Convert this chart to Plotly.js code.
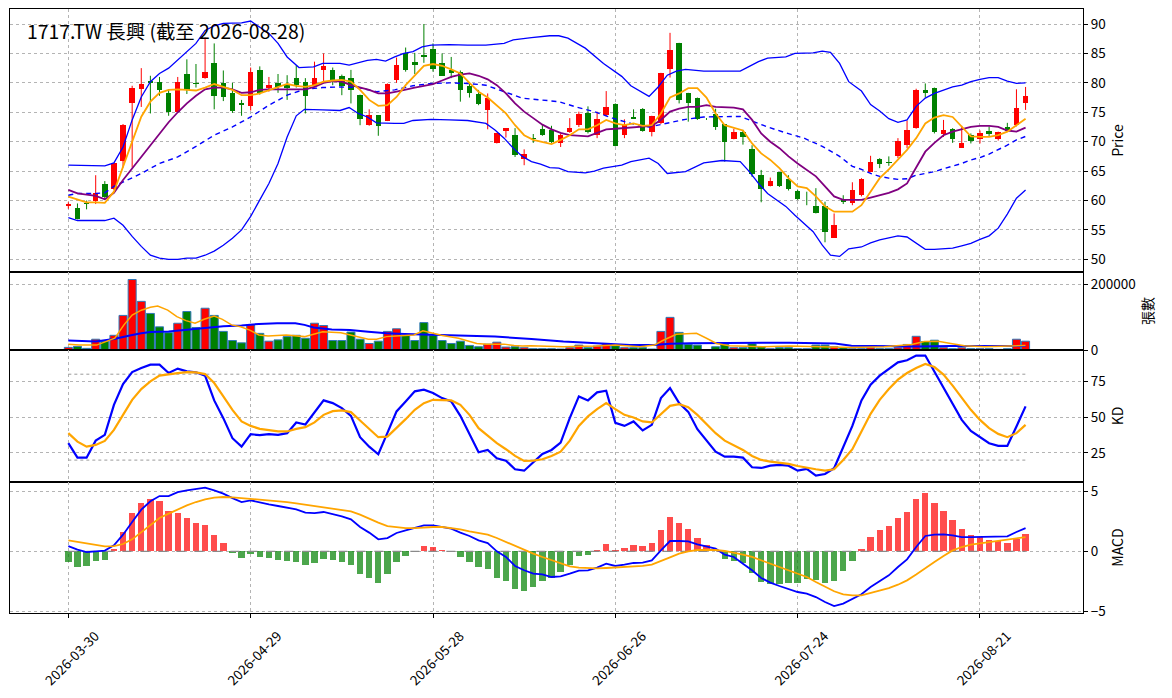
<!DOCTYPE html>
<html>
<head>
<meta charset="utf-8">
<script src="https://cdn.plot.ly/plotly-3.0.1.min.js"></script>
<style>
  html, body { margin: 0; padding: 0; background: #fff; }
  #chart { width: 1172px; height: 698px; }
</style>
</head>
<body>
<div id="chart"></div>
<script>
// 1717.TW daily candles + MA / BB, volume, KD and MACD.
const TITLE = "1717.TW 長興 (截至 2026-08-28)";

// x axis: trading-day index, labelled every 20 bars
const tickIdx = [0, 20, 40, 60, 80, 100];
const tickDates = ["2026-03-30", "2026-04-29", "2026-05-28", "2026-06-26", "2026-07-24", "2026-08-21"];

const openP = [59.0,58.7,59.6,60.0,62.8,62.0,66.8,76.6,79.0,80.3,80.1,78.3,75.1,81.5,79.9,80.8,83.4,80.0,78.3,76.5,
  76.1,82.2,79.2,80.0,79.6,80.8,80.1,79.5,82.2,82.1,81.2,80.9,77.9,72.9,74.5,73.6,80.4,85.0,83.5,84.8,
  85.7,83.4,82.2,81.8,79.5,78.1,75.3,69.8,71.9,71.1,67.0,70.6,72.2,72.0,69.7,71.6,72.8,74.9,71.1,74.6,
  76.4,71.1,74.2,75.5,71.6,73.1,82.4,86.8,78.3,77.4,73.9,74.7,73.0,70.5,71.6,68.7,64.3,62.5,64.8,63.6,
  61.6,61.5,59.1,59.1,53.7,60.1,59.6,60.9,64.9,67.0,66.5,67.6,69.5,72.4,78.8,79.1,71.3,72.2,69.0,71.1,
  70.4,71.9,70.5,72.5,72.8,76.5];
const highP = [59.7,59.5,60.0,64.3,63.3,66.3,73.0,79.5,82.5,81.2,81.0,78.8,81.0,84.0,83.2,87.7,86.7,82.1,80.0,77.1,
  82.6,82.8,81.0,81.5,81.3,83.0,80.8,83.6,85.0,82.6,81.4,82.2,78.0,75.5,74.5,79.9,84.3,86.0,85.1,90.0,
  86.7,85.0,84.4,82.1,79.8,78.8,78.2,71.5,72.3,72.3,68.7,71.3,72.9,72.7,71.4,74.0,75.1,76.0,75.1,78.6,
  76.5,73.8,75.5,75.7,74.4,81.7,88.5,86.8,78.3,77.5,74.0,75.6,73.0,72.2,72.0,69.4,65.2,63.9,64.8,64.3,
  61.8,61.5,62.1,59.8,57.8,60.9,63.1,63.8,67.6,67.2,67.5,70.6,73.6,79.0,79.9,79.2,73.7,72.3,72.7,71.4,
  71.9,72.6,71.7,73.2,78.9,79.3];
const lowP = [58.6,56.8,58.5,59.4,60.2,61.8,65.6,65.6,75.9,74.8,77.8,74.4,75.0,78.1,79.2,80.7,75.5,76.9,74.9,74.4,
  75.3,78.0,78.5,78.3,77.1,79.2,74.8,79.3,80.2,79.6,77.9,76.5,72.8,72.7,71.0,73.5,80.0,81.9,81.5,83.4,
  81.9,81.2,80.8,76.8,77.5,76.2,72.1,69.7,70.7,67.4,66.0,69.8,71.0,69.8,69.1,71.5,72.5,71.4,70.6,74.3,
  69.2,70.6,73.9,71.7,70.9,73.0,80.9,76.5,73.4,73.7,73.7,72.0,66.6,70.4,69.5,64.0,59.7,62.4,62.3,61.7,
  60.1,59.2,57.8,52.9,53.7,59.4,59.2,60.7,64.8,65.5,65.9,67.2,68.9,72.2,77.5,71.4,70.8,69.8,69.0,69.7,
  69.7,70.8,70.2,71.7,72.6,75.4];
const closeP = [59.4,56.9,59.4,61.2,60.6,66.3,72.9,79.1,79.8,80.0,78.8,75.1,80.1,78.8,79.8,81.8,77.8,77.6,75.2,76.3,
  81.8,78.3,79.6,79.3,79.2,79.6,77.8,80.9,82.9,80.4,79.5,78.7,73.8,74.5,72.7,79.8,83.1,82.2,83.0,84.4,
  82.4,81.2,81.6,78.7,78.2,76.4,77.4,71.4,72.3,67.8,67.9,70.4,71.2,69.9,71.1,72.4,74.7,71.6,73.8,75.9,
  69.3,72.9,73.9,71.9,74.3,81.6,85.5,77.1,76.6,73.8,73.8,72.5,70.0,71.6,70.8,64.5,62.0,63.3,62.5,61.9,
  60.2,61.4,57.8,54.7,55.8,59.7,61.8,63.6,66.5,66.2,66.3,70.1,72.0,78.8,78.2,71.6,72.0,70.5,69.7,70.2,
  71.5,71.3,71.7,71.9,75.8,77.8];

// moving averages on price (one value per bar)
const ma5 = [60.65,60.2,59.7,59.7,59.6,61.5,65.75,70.3,74.25,76.8,78.3,78.8,78.9,78.8,78.7,79.2,79.8,79.3,78.8,77.9,
  77.9,78.2,78.7,79.2,79.8,79.5,79.3,79.6,80.2,80.4,80.5,80.2,78.8,77.1,76.1,76.2,77.6,79.6,81.3,82.9,
  83.2,82.9,82.3,81.6,80.0,78.5,77.5,76.2,74.8,72.8,71.1,70.3,70.0,69.6,70.3,71.1,72.1,72.1,72.8,73.7,
  73.1,72.8,73.1,72.7,72.8,74.8,77.5,78.2,79.1,79.1,77.5,74.8,72.8,72.3,71.9,69.7,68.0,66.9,65.5,63.8,
  62.4,62.1,60.7,59.0,58.1,58.1,58.1,59.2,61.5,63.8,65.3,66.9,68.6,70.6,73.1,74.1,74.5,74.2,72.5,70.9,
  70.8,70.8,71.1,71.7,72.8,73.9];
const ma10 = [61.8,61.2,61.0,60.8,60.2,61.3,63.5,65.5,67.5,69.5,71.5,73.3,75.0,76.5,77.8,78.9,79.2,79.2,78.9,78.3,
  78.4,78.8,78.9,78.9,78.9,78.8,78.9,79.3,80.0,80.3,80.2,79.6,79.2,78.8,78.2,78.2,78.5,78.9,79.2,79.5,
  79.8,80.4,81.0,81.4,81.6,81.2,80.6,79.6,78.2,76.5,75.1,74.0,72.9,72.1,71.5,71.1,71.0,70.9,71.5,72.1,
  72.2,72.3,72.4,72.6,72.7,73.7,75.1,75.6,75.9,75.9,76.2,75.9,75.8,75.8,75.5,73.7,71.4,70.0,68.9,67.5,
  66.3,65.2,64.1,62.4,60.7,60.1,60.1,60.1,60.5,60.9,61.3,61.9,62.9,65.6,68.3,69.8,71.1,71.7,72.1,72.5,
  72.7,72.7,72.5,71.9,71.7,72.4];

// MA20 (dashed) and Bollinger bands, read at sampled bar positions
const ma20X = [0,1,3,4,5,8,10,12,14,16,18,20,22,24,25.9,27.9,29.8,31.8,33.8,35.8,37.8,39.8,41.8,43.8,45.8,47.8,49.8,51.8,53.8,55.7,
  57.7,59.7,61.7,63.7,65.7,67.7,69.7,71.7,73.7,74.7,76.7,78.7,80.7,82.7,84.6,86,87,88,89,90,91,92,93,94,95,96,97,98,99,100,101,102,103,104,105];
const ma20Y = [60.9,61.2,61.2,61.3,62.4,64.6,66.3,67.4,69.2,71.1,72.5,74.2,76.2,77.9,78.9,79.2,79.3,79.2,78.5,78.8,79.5,79.9,80.0,79.9,79.6,78.5,77.4,77.1,76.8,75.9,
  75.1,74.0,73.1,72.5,73.1,73.8,74.2,74.3,74.3,73.7,72.5,71.5,70.6,69.2,67.5,65.8,65.3,64.6,64.1,63.8,63.6,63.7,64.3,64.6,64.9,65.4,65.8,66.3,66.9,67.3,67.9,68.6,69.4,70.3,70.9];
const bbUpX = [0,2,4,5,6,7,8,9,10,11,12,13,14,15,16,17,18,19,20,21,22,23,24,25.3,26.9,27.9,29.8,30.8,32.8,33.8,34.8,35.8,36.8,37.8,38.8,39.8,41.8,43.8,45.8,47.8,48.8,50.8,52.8,53.8,54.8,
  56.7,58.7,60.7,61.7,63.7,64.7,65.7,66.7,67.7,69.7,71.7,73.7,74.7,75.7,76.7,78.7,79.7,81.7,82.7,83.6,84.6,85.6,87,88,89,90,91,92,93,94,95,96,97,98,99,100,101,102,103,104,105];
const bbUpY = [66.0,65.9,65.9,66.4,69.1,73.7,77.6,80.2,81.6,82.5,83.9,85.3,86.7,88.9,89.7,90.1,90.2,90.2,90.5,89.5,88.4,86.7,84.4,82.6,82.7,83.3,83.3,83.0,83.8,84.0,83.7,84.4,85.0,85.3,86.1,86.4,86.5,86.4,86.4,86.7,87.3,87.7,88.0,88.0,87.6,
  85.9,83.3,81.1,79.5,77.7,79.3,81.3,82.0,82.3,82.0,82.0,82.0,82.8,83.6,84.2,84.4,85.0,85.1,85.4,85.2,83.3,80.2,78.6,76.3,75.2,73.9,73.3,73.7,76.0,77.4,78.2,78.8,79.3,79.6,80.2,80.6,80.9,80.9,80.3,79.9,80.0];
const bbLowX = [0,1,2,4,5,6,7,8,9,10,11,12,13,14,15,16,17,18,19,20,21,22,23,24,25,25.9,27.9,29.8,30.8,31.8,32.8,33.8,35.8,36.8,37.8,39.8,41.8,43.8,45.8,46.8,47.8,48.8,49.8,50.8,51.8,52.8,53.8,54.8,
  56.7,57.7,58.7,60.7,61.7,63.7,64.7,65.7,67.7,69.7,71.7,73.7,74.7,75.7,76.7,78.7,79.7,80.7,81.7,82.7,83.6,84.6,85.6,87,88,89,90,91,92,93,94,95,96,97,98,99,100,101,102,103,104,105];
const bbLowY = [57.1,56.6,56.6,56.6,57.0,55.8,53.9,52.2,50.7,50.2,50.0,50.0,50.2,50.2,50.7,51.4,52.4,53.6,55.0,57.3,60.1,62.9,66.3,70.8,74.4,75.5,75.4,75.3,75.8,74.8,74.2,73.2,73.1,73.1,73.6,73.8,73.7,73.6,73.1,72.0,70.6,68.9,67.5,66.6,66.2,65.6,65.5,64.9,
  64.7,65.0,65.5,66.0,66.6,67.2,66.3,64.6,64.9,66.4,66.8,66.6,64.9,62.9,61.2,59.0,57.5,56.1,54.7,52.4,50.7,50.5,51.8,52.1,52.8,53.3,53.7,54.0,53.8,52.7,51.7,51.7,51.8,51.9,52.3,52.7,53.4,54.0,55.3,57.7,60.4,61.8];

// volume (張數) per bar
const volume = [8000,11000,5000,33000,27000,45000,106000,216000,149000,112000,71000,53000,82000,118000,69000,128000,106000,57000,29000,22000,
  77000,51000,27000,31000,41000,45000,36000,82000,75000,29000,29000,55000,33000,20000,27000,57000,65000,45000,29000,84000,
  45000,29000,20000,27000,14000,10000,18000,24000,9000,10000,7000,4000,4000,4000,3000,7000,15000,7000,12000,20000,
  13000,7000,7000,7000,3000,57000,100000,54000,17000,15000,1000,10000,17000,7000,7000,19000,10000,4000,7000,7000,
  4000,4000,15000,15000,10000,7000,4000,4000,7000,4000,4000,7000,17000,42000,26000,30000,7000,4000,7000,4000,
  4000,4000,2000,4000,33000,27000];
const volMa5X = [0,1.2,3.1,4.1,5.1,6.1,7,8,9,9.8,10.9,11.9,12.9,13.9,14.9,16,16.9,17.9,18.9,19.9,20.9,21.9,23.9,25.9,27.9,29.9,31.9,32.9,33.8,34.9,35.9,37.9,38.9,39.9,40.9,42.8,43.9,44.8,45.9,47.8,48.9,49.8,
  50.7,54.3,57.9,60,62.7,64.3,65.2,66.7,67.8,68.9,70,71.1,72.5,76.2,79.1,82.3,85.9,89.5,92.5,93.9,95.4,96.8,98.3,100.5,104.1,105];
const volMa5Y = [18000,15000,15000,25000,36000,77000,107000,122000,131000,135000,122000,102000,90000,82000,94000,104000,94000,77000,71000,61000,46000,43000,46000,41000,56000,53000,41000,33000,33000,41000,43000,46000,59000,53000,45000,36000,26000,20000,18000,18000,14000,12000,
  13000,10000,12000,15000,10000,15000,29000,48000,50000,51000,36000,20000,13000,10000,12000,10000,8000,10000,17000,26000,27000,20000,13000,10000,12000,14000];
const volMa20X = [0,3,5,6,7,8,9,11,13,15,17,19,20.9,22.9,24.9,25.9,26.9,28.9,30.9,32.9,34.9,36.9,38.9,40.9,42.8,44.8,46.8,48.9,50.8,
  54.3,57.9,60,61.6,64.2,66,68.2,71.1,76.2,79.1,84.1,85.9,89.5,93.2,96.8,100.5,105];
const volMa20Y = [29000,26000,34000,41000,46000,51000,55000,57000,63000,69000,73000,75000,80000,82000,82000,77000,69000,63000,61000,56000,51000,49000,48000,47000,46000,43000,41000,38000,34000,
  26000,20000,17000,15000,15000,19000,21000,22000,22000,22000,20000,13000,11000,11000,12000,12000,12000];

// KD
const kLine = [31.8,21.7,21.7,33.6,37.6,58.6,73.1,81.5,84.3,86.7,86.7,80.8,83.9,82.0,81.3,79.0,61.7,49.3,35.3,29.4,
  38.1,37.4,38.1,37.6,38.8,46.3,44.9,53.3,61.7,59.8,56.3,50.9,36.0,29.4,24.1,39.0,54.0,61.0,68.0,69.2,
  66.8,63.3,61.0,50.9,37.6,25.5,27.1,21.3,19.6,13.6,12.6,18.2,24.3,27.1,32.2,49.3,64.5,61.7,67.3,68.5,
  46.0,43.9,47.0,40.7,44.6,63.3,70.3,59.8,53.7,41.6,33.6,25.9,22.4,22.4,21.7,15.0,14.5,16.1,16.6,16.1,
  12.6,13.8,9.1,10.3,14.3,29.0,43.9,61.7,72.7,79.0,83.6,88.3,89.7,93.0,93.0,82.0,71.0,59.8,48.1,40.4,
  36.0,31.8,29.9,29.9,43.5,57.5];
const dLine = [38.8,32.9,29.4,30.6,33.4,41.1,51.6,62.1,69.6,75.0,79.0,80.1,80.8,81.5,81.3,80.1,73.8,64.5,55.1,47.0,
  43.9,41.8,40.7,40.0,40.0,41.8,43.0,46.3,51.6,54.2,54.7,53.5,47.7,41.8,36.0,36.4,42.3,48.6,55.1,59.8,
  62.1,62.1,61.7,58.6,51.6,42.3,36.9,31.8,27.6,22.9,19.4,19.6,20.6,22.9,25.9,33.6,43.9,50.5,55.6,59.8,
  55.6,51.6,49.8,47.0,46.3,52.3,57.9,59.1,57.0,51.6,45.3,38.8,33.6,30.1,27.1,22.9,20.1,18.9,18.2,17.3,
  15.9,15.0,13.6,12.6,13.6,20.1,27.6,40.0,52.3,62.1,69.6,76.2,80.8,84.3,87.1,85.0,79.7,72.0,63.3,55.1,
  48.1,42.3,38.3,36.0,38.8,44.6];
const kdLevels = [20, 80];

// MACD
const macdHist = [-0.89,-1.31,-1.22,-0.81,-0.69,0.19,1.61,3.19,4.03,4.36,4.19,3.36,3.22,2.78,2.36,2.19,1.36,0.69,-0.11,-0.53,
  -0.22,-0.47,-0.53,-0.69,-0.81,-0.89,-1.11,-0.94,-0.61,-0.69,-0.89,-1.11,-1.86,-2.19,-2.61,-1.86,-0.89,-0.36,0.02,0.44,
  0.33,0.11,-0.02,-0.44,-0.89,-1.28,-1.44,-2.22,-2.44,-3.11,-3.33,-2.97,-2.44,-2.19,-1.72,-1.11,-0.36,-0.28,0.11,0.61,
  0.11,0.28,0.53,0.44,0.69,1.81,2.86,2.36,1.86,1.11,0.5,0.1,-0.61,-0.78,-0.94,-1.78,-2.56,-2.69,-2.69,-2.61,
  -2.61,-2.28,-2.36,-2.61,-2.47,-1.61,-0.78,0.19,1.19,1.78,2.14,2.78,3.28,4.36,4.86,4.03,3.36,2.61,1.86,1.39,
  1.19,0.97,0.86,0.69,1.03,1.44];
const dif = [0.44,0.14,-0.06,0.03,0.06,0.5,1.39,2.44,3.47,4.17,4.61,4.61,4.94,5.08,5.17,5.31,5.08,4.81,4.44,4.11,
  4.25,4.06,3.92,3.78,3.61,3.5,3.22,3.19,3.28,3.11,2.92,2.67,2.03,1.56,1.0,1.11,1.53,1.75,1.94,2.17,
  2.17,2.03,1.89,1.56,1.28,0.92,0.69,0.0,-0.47,-1.22,-1.58,-1.86,-1.92,-2.14,-2.08,-1.86,-1.61,-1.58,-1.36,-1.03,
  -1.22,-1.11,-0.97,-0.94,-0.75,0.08,0.86,0.86,0.83,0.58,0.42,0.22,-0.28,-0.47,-1.03,-1.58,-2.22,-2.61,-2.89,-3.11,
  -3.39,-3.53,-3.81,-4.22,-4.56,-4.36,-4.0,-3.58,-2.97,-2.47,-2.0,-1.31,-0.67,0.36,1.28,1.39,1.42,1.33,1.19,1.19,
  1.19,1.19,1.22,1.25,1.61,1.94];
const dea = [0.92,0.78,0.64,0.5,0.42,0.44,0.61,1.0,1.61,2.22,2.78,3.14,3.5,3.83,4.11,4.33,4.47,4.53,4.5,4.44,
  4.39,4.33,4.25,4.17,4.11,4.0,3.89,3.78,3.67,3.61,3.5,3.33,3.06,2.72,2.39,2.11,2.0,1.94,1.94,2.0,
  2.03,2.03,1.94,1.83,1.67,1.56,1.39,1.11,0.78,0.42,0.08,-0.19,-0.47,-0.75,-1.03,-1.25,-1.36,-1.42,-1.42,-1.39,
  -1.36,-1.33,-1.28,-1.22,-1.11,-0.83,-0.5,-0.19,0.0,0.11,0.14,0.11,0.03,-0.11,-0.28,-0.47,-0.75,-1.03,-1.31,-1.58,
  -1.86,-2.14,-2.56,-2.97,-3.33,-3.58,-3.67,-3.67,-3.47,-3.28,-3.06,-2.78,-2.42,-1.94,-1.39,-0.89,-0.39,0.08,0.36,0.56,
  0.67,0.78,0.86,0.94,1.06,1.19];

const RED = "#ff0000", GREEN = "#008000";
const FONT = "'Noto Sans CJK TC', 'Noto Sans', 'DejaVu Sans', sans-serif";
const idx = closeP.map((_, i) => i);
const isUp = idx.map((i) => closeP[i] >= openP[i]);

function wicks(up) {
  const xs = [], ys = [];
  idx.forEach((i) => {
    if (isUp[i] !== up) return;
    xs.push(i, i, null);
    ys.push(lowP[i], highP[i], null);
  });
  return { xs, ys };
}

function bodies(up) {
  const xs = [], base = [], h = [];
  idx.forEach((i) => {
    if (isUp[i] !== up) return;
    xs.push(i);
    base.push(Math.min(openP[i], closeP[i]));
    h.push(Math.max(Math.abs(closeP[i] - openP[i]), 0.08));
  });
  return { xs, base, h };
}

const traces = [];
[true, false].forEach((up) => {
  const w = wicks(up);
  traces.push({
    x: w.xs, y: w.ys, type: "scatter", mode: "lines",
    line: { color: up ? RED : GREEN, width: 1 }, hoverinfo: "skip", xaxis: "x", yaxis: "y",
  });
});
[true, false].forEach((up) => {
  const b = bodies(up);
  traces.push({
    x: b.xs, y: b.h, base: b.base, type: "bar", width: 0.6,
    marker: { color: up ? RED : GREEN, line: { width: 0 } }, xaxis: "x", yaxis: "y",
  });
});

function line(x, y, color, width, ax, dash) {
  return {
    x, y, type: "scatter", mode: "lines", hoverinfo: "skip",
    line: { color, width, dash: dash || "solid" },
    xaxis: ax[0], yaxis: ax[1],
  };
}

// price panel overlays
traces.push(line(bbUpX, bbUpY, "#0000ff", 1.3, ["x", "y"]));
traces.push(line(bbLowX, bbLowY, "#0000ff", 1.3, ["x", "y"]));
traces.push(line(ma20X, ma20Y, "#0000ff", 1.4, ["x", "y"], "5px,4px"));
traces.push(line(idx, ma10, "#800080", 1.8, ["x", "y"]));
traces.push(line(idx, ma5, "#ffa500", 1.8, ["x", "y"]));

// volume panel
[true, false].forEach((up) => {
  const xs = idx.filter((i) => isUp[i] === up);
  traces.push({
    x: xs, y: xs.map((i) => volume[i]), type: "bar", width: 0.88,
    marker: { color: up ? RED : GREEN, line: { color: "#2f78b8", width: 1 } },
    xaxis: "x2", yaxis: "y2", hoverinfo: "skip",
  });
});
traces.push(line(volMa20X, volMa20Y, "#0000ff", 2, ["x2", "y2"]));
traces.push(line(volMa5X, volMa5Y, "#ffa500", 1.5, ["x2", "y2"]));

// KD panel
kdLevels.forEach((lv) => {
  traces.push(line([0, idx.length - 1], [lv, lv], "#9a9a9a", 1, ["x3", "y3"], "dot"));
});
traces.push(line(idx, kLine, "#0000ff", 2.2, ["x3", "y3"]));
traces.push(line(idx, dLine, "#ffa500", 2.2, ["x3", "y3"]));

// MACD panel
traces.push(line([0, idx.length - 1], [0, 0], "#8a8a8a", 1.2, ["x4", "y4"], "dash"));
[true, false].forEach((pos) => {
  const xs = idx.filter((i) => (macdHist[i] >= 0) === pos);
  traces.push({
    x: xs, y: xs.map((i) => macdHist[i]), type: "bar", width: 0.7,
    marker: { color: pos ? "rgba(255,0,0,0.7)" : "rgba(0,128,0,0.7)", line: { width: 0 } },
    xaxis: "x4", yaxis: "y4", hoverinfo: "skip",
  });
});
traces.push(line(idx, dif, "#0000ff", 1.8, ["x4", "y4"]));
traces.push(line(idx, dea, "#ffa500", 1.8, ["x4", "y4"]));

// panel boundaries in px (plot area 9..613)
const TOP = 9, BOT = 613, H = BOT - TOP;
const frac = (y) => (BOT - y) / H;
const dom = {
  price: [frac(272), 1],
  vol: [frac(350), frac(272)],
  kd: [frac(482), frac(350)],
  macd: [0, frac(482)],
};

const XRANGE = [-6.4, 111.3];
const gridStyle = { showgrid: true, gridcolor: "#b4b4b4", griddash: "dot", gridwidth: 1 };
const frame = { showline: true, linecolor: "#000", linewidth: 1, mirror: true, zeroline: false };
const tickFont = { family: FONT, size: 13.5, color: "#000" };
const titleFont = { family: FONT, size: 14, color: "#000" };

function xAxis(anchor, labels) {
  const ax = Object.assign({}, gridStyle, frame, {
    anchor, range: XRANGE, tickmode: "array", tickvals: tickIdx,
    ticktext: tickDates, showticklabels: labels, ticks: labels ? "outside" : "",
    ticklen: 4, tickcolor: "#000", tickangle: -45, tickfont: tickFont,
  });
  if (labels) {
    // centre the rotated labels under their ticks, as the reference does
    ax.ticklabelshift = 27;
    ax.ticklabelstandoff = 5;
  }
  return ax;
}
function yAxis(anchor, domain, range, tickvals, title, ticktext) {
  const ax = Object.assign({}, gridStyle, frame, {
    anchor, domain, range, side: "right", tickmode: "array", tickvals,
    ticks: "outside", ticklen: 4, tickcolor: "#000", tickfont: tickFont,
    title: { text: title, font: titleFont, standoff: 8 },
  });
  if (ticktext) ax.ticktext = ticktext;
  return ax;
}

const layout = {
  width: 1172, height: 698,
  margin: { l: 10, r: 89, t: TOP, b: 698 - BOT },
  paper_bgcolor: "#fff", plot_bgcolor: "#fff",
  showlegend: false, barmode: "overlay", bargap: 0,
  font: { family: FONT, color: "#000" },
  xaxis: xAxis("y", false),
  xaxis2: Object.assign(xAxis("y2", false), { matches: "x" }),
  xaxis3: Object.assign(xAxis("y3", false), { matches: "x" }),
  xaxis4: Object.assign(xAxis("y4", true), { matches: "x" }),
  yaxis: yAxis("x", dom.price, [47.85, 92.55], [50, 55, 60, 65, 70, 75, 80, 85, 90], "Price"),
  yaxis2: yAxis("x2", dom.vol, [0, 239000], [0, 200000], "張數", ["0", "200000"]),
  yaxis3: yAxis("x3", dom.kd, [4.7, 96.9], [25, 50, 75], "KD"),
  yaxis4: yAxis("x4", dom.macd, [-5.14, 5.78], [-5, 0, 5], "MACD"),
  annotations: [{
    text: TITLE, xref: "paper", yref: "paper", x: 15 / 1073, y: frac(31),
    xanchor: "left", yanchor: "middle", showarrow: false,
    font: { family: FONT, size: 19.4, color: "#000" },
  }],
};

Plotly.newPlot("chart", traces, layout, { staticPlot: true, displayModeBar: false });
</script>
</body>
</html>
